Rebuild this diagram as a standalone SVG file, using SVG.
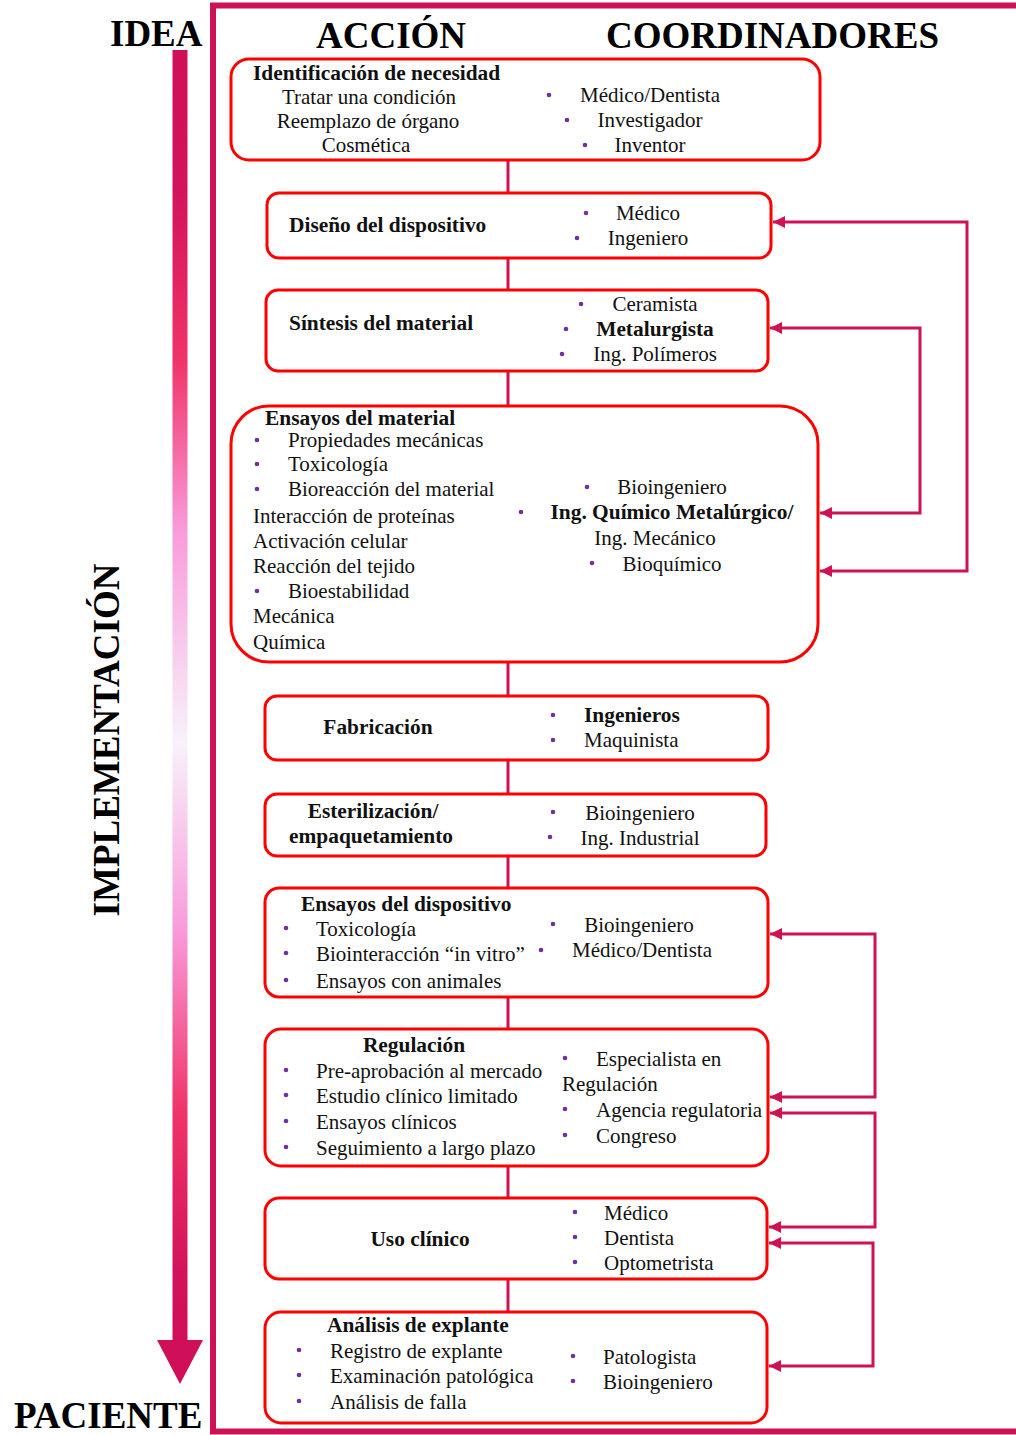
<svg xmlns="http://www.w3.org/2000/svg" width="1016" height="1435" viewBox="0 0 1016 1435">
<style>
.hd{font-family:"Liberation Serif","Times New Roman",serif;font-weight:bold;font-size:37px;fill:#000}
.t{font-family:"Liberation Serif","Times New Roman",serif;font-size:21px;fill:#111}
.b{font-family:"Liberation Serif","Times New Roman",serif;font-size:21.4px;font-weight:bold;fill:#111}
.m{text-anchor:middle}
.box{fill:#fff;stroke:#FF0000;stroke-width:3}
.dot{fill:#7030A0}
.con{fill:none;stroke:#CE1256;stroke-width:3}
</style>
<defs>
<linearGradient id="g" x1="0" y1="50" x2="0" y2="1345" gradientUnits="userSpaceOnUse">
<stop offset="0" stop-color="#CF0F57"/>
<stop offset="0.11" stop-color="#D2145A"/>
<stop offset="0.24" stop-color="#F03468"/>
<stop offset="0.37" stop-color="#F99ADA"/>
<stop offset="0.535" stop-color="#F7F2FA"/>
<stop offset="0.68" stop-color="#F99ADA"/>
<stop offset="0.82" stop-color="#F03468"/>
<stop offset="0.94" stop-color="#D2145A"/>
<stop offset="1" stop-color="#CF0F57"/>
</linearGradient>
<marker id="ah" markerUnits="userSpaceOnUse" markerWidth="14" markerHeight="12" refX="12" refY="6" orient="auto-start-reverse">
<path d="M0,0 L12,6 L0,12 Z" fill="#CE1256"/>
</marker>
</defs>

<g id="frame">
<rect x="213" y="5.5" width="900" height="1426" fill="none" stroke="#CE1256" stroke-width="6"/>
</g>

<g id="axis">
<rect x="172.5" y="50" width="15" height="1292" fill="url(#g)"/>
<path d="M157,1340 L203,1340 L180,1384 Z" fill="#CF0F57"/>
<text class="hd" x="110" y="46">IDEA</text>
<text class="hd" x="14" y="1428">PACIENTE</text>
<text class="hd m" transform="translate(119,740) rotate(-90)">IMPLEMENTACIÓN</text>
</g>

<g id="headers">
<text class="hd" x="316" y="48">ACCIÓN</text>
<text class="hd" x="606" y="48">COORDINADORES</text>
</g>

<g id="connectors">
<line class="con" x1="508" y1="160" x2="508" y2="193"/>
<line class="con" x1="508" y1="258" x2="508" y2="290"/>
<line class="con" x1="508" y1="371" x2="508" y2="406"/>
<line class="con" x1="508" y1="662" x2="508" y2="696"/>
<line class="con" x1="508" y1="760" x2="508" y2="794"/>
<line class="con" x1="508" y1="856" x2="508" y2="888"/>
<line class="con" x1="508" y1="997" x2="508" y2="1029"/>
<line class="con" x1="508" y1="1166" x2="508" y2="1198"/>
<line class="con" x1="508" y1="1279" x2="508" y2="1312"/>
<path class="con" d="M773,222 H967 V571 H820" marker-start="url(#ah)" marker-end="url(#ah)"/>
<path class="con" d="M770,328 H920 V513 H820" marker-start="url(#ah)" marker-end="url(#ah)"/>
<path class="con" d="M770,934 H875 V1097 H770" marker-start="url(#ah)" marker-end="url(#ah)"/>
<path class="con" d="M770,1113 H875 V1227 H769" marker-start="url(#ah)" marker-end="url(#ah)"/>
<path class="con" d="M769,1243 H873 V1366 H769" marker-start="url(#ah)" marker-end="url(#ah)"/>
</g>

<g id="n1">
<rect class="box" x="231" y="59" width="589" height="101" rx="18"/>
<text class="b" x="253" y="80">Identificación de necesidad</text>
<text class="t m" x="369" y="104">Tratar una condición</text>
<text class="t m" x="368" y="128">Reemplazo de órgano</text>
<text class="t m" x="366" y="152">Cosmética</text>
<circle class="dot" cx="549" cy="95" r="2.3"/>
<circle class="dot" cx="567" cy="120" r="2.3"/>
<circle class="dot" cx="585" cy="145" r="2.3"/>
<text class="t m" x="650" y="102">Médico/Dentista</text>
<text class="t m" x="650" y="127">Investigador</text>
<text class="t m" x="650" y="152">Inventor</text>
</g>

<g id="n2">
<rect class="box" x="267" y="193" width="504" height="65" rx="12"/>
<text class="b" x="289" y="232">Diseño del dispositivo</text>
<circle class="dot" cx="586" cy="213" r="2.3"/>
<circle class="dot" cx="577" cy="238" r="2.3"/>
<text class="t m" x="648" y="220">Médico</text>
<text class="t m" x="648" y="245">Ingeniero</text>
</g>

<g id="n3">
<rect class="box" x="266" y="290" width="502" height="81" rx="12"/>
<text class="b" x="289" y="330">Síntesis del material</text>
<circle class="dot" cx="581" cy="304" r="2.3"/>
<circle class="dot" cx="566" cy="329" r="2.3"/>
<circle class="dot" cx="562" cy="354" r="2.3"/>
<text class="t m" x="655" y="311">Ceramista</text>
<text class="b m" x="655" y="336">Metalurgista</text>
<text class="t m" x="655" y="361">Ing. Polímeros</text>
</g>

<g id="n4">
<rect class="box" x="231" y="406" width="587" height="256" rx="38"/>
<text class="b" x="265" y="425">Ensayos del material</text>
<circle class="dot" cx="257" cy="440" r="2.3"/>
<circle class="dot" cx="257" cy="464" r="2.3"/>
<circle class="dot" cx="257" cy="489" r="2.3"/>
<circle class="dot" cx="257" cy="591" r="2.3"/>
<text class="t" x="288" y="447">Propiedades mecánicas</text>
<text class="t" x="288" y="471">Toxicología</text>
<text class="t" x="288" y="496">Bioreacción del material</text>
<text class="t" x="253" y="523">Interacción de proteínas</text>
<text class="t" x="253" y="548">Activación celular</text>
<text class="t" x="253" y="573">Reacción del tejido</text>
<text class="t" x="288" y="598">Bioestabilidad</text>
<text class="t" x="253" y="623">Mecánica</text>
<text class="t" x="253" y="649">Química</text>
<circle class="dot" cx="587" cy="487" r="2.3"/>
<circle class="dot" cx="521" cy="512" r="2.3"/>
<circle class="dot" cx="592" cy="563" r="2.3"/>
<text class="t m" x="672" y="494">Bioingeniero</text>
<text class="b m" x="672" y="519">Ing. Químico Metalúrgico/</text>
<text class="t m" x="655" y="545">Ing. Mecánico</text>
<text class="t m" x="672" y="571">Bioquímico</text>
</g>

<g id="n5">
<rect class="box" x="265" y="696" width="503" height="64" rx="12"/>
<text class="b m" x="378" y="734">Fabricación</text>
<circle class="dot" cx="553" cy="715" r="2.3"/>
<circle class="dot" cx="553" cy="740" r="2.3"/>
<text class="b" x="584" y="722">Ingenieros</text>
<text class="t" x="584" y="747">Maquinista</text>
</g>

<g id="n6">
<rect class="box" x="265" y="794" width="501" height="62" rx="12"/>
<text class="b m" x="373" y="818">Esterilización/</text>
<text class="b m" x="371" y="843">empaquetamiento</text>
<circle class="dot" cx="553" cy="812" r="2.3"/>
<circle class="dot" cx="550" cy="837" r="2.3"/>
<text class="t m" x="640" y="820">Bioingeniero</text>
<text class="t m" x="640" y="845">Ing. Industrial</text>
</g>

<g id="n7">
<rect class="box" x="265" y="888" width="503" height="109" rx="14"/>
<text class="b" x="301" y="911">Ensayos del dispositivo</text>
<circle class="dot" cx="286" cy="928" r="2.3"/>
<circle class="dot" cx="286" cy="953" r="2.3"/>
<circle class="dot" cx="286" cy="980" r="2.3"/>
<text class="t" x="316" y="936">Toxicología</text>
<text class="t" x="316" y="961">Biointeracción “in vitro”</text>
<text class="t" x="316" y="988">Ensayos con animales</text>
<circle class="dot" cx="553" cy="924" r="2.3"/>
<circle class="dot" cx="541" cy="950" r="2.3"/>
<text class="t m" x="639" y="932">Bioingeniero</text>
<text class="t m" x="642" y="957">Médico/Dentista</text>
</g>

<g id="n8">
<rect class="box" x="265" y="1029" width="503" height="137" rx="16"/>
<text class="b m" x="414" y="1052">Regulación</text>
<circle class="dot" cx="286" cy="1070" r="2.3"/>
<circle class="dot" cx="286" cy="1095" r="2.3"/>
<circle class="dot" cx="286" cy="1121" r="2.3"/>
<circle class="dot" cx="286" cy="1147" r="2.3"/>
<text class="t" x="316" y="1078">Pre-aprobación al mercado</text>
<text class="t" x="316" y="1103">Estudio clínico limitado</text>
<text class="t" x="316" y="1129">Ensayos clínicos</text>
<text class="t" x="316" y="1155">Seguimiento a largo plazo</text>
<circle class="dot" cx="565" cy="1058" r="2.3"/>
<circle class="dot" cx="565" cy="1109" r="2.3"/>
<circle class="dot" cx="565" cy="1135" r="2.3"/>
<text class="t" x="596" y="1066">Especialista en</text>
<text class="t" x="562" y="1091">Regulación</text>
<text class="t" x="596" y="1117">Agencia regulatoria</text>
<text class="t" x="596" y="1143">Congreso</text>
</g>

<g id="n9">
<rect class="box" x="265" y="1198" width="502" height="81" rx="14"/>
<text class="b m" x="420" y="1246">Uso clínico</text>
<circle class="dot" cx="575" cy="1212" r="2.3"/>
<circle class="dot" cx="575" cy="1237" r="2.3"/>
<circle class="dot" cx="575" cy="1262" r="2.3"/>
<text class="t" x="604" y="1220">Médico</text>
<text class="t" x="604" y="1245">Dentista</text>
<text class="t" x="604" y="1270">Optometrista</text>
</g>

<g id="n10">
<rect class="box" x="265" y="1312" width="502" height="111" rx="16"/>
<text class="b" x="327" y="1332">Análisis de explante</text>
<circle class="dot" cx="299" cy="1350" r="2.3"/>
<circle class="dot" cx="299" cy="1375" r="2.3"/>
<circle class="dot" cx="299" cy="1401" r="2.3"/>
<text class="t" x="330" y="1358">Registro de explante</text>
<text class="t" x="330" y="1383">Examinación patológica</text>
<text class="t" x="330" y="1409">Análisis de falla</text>
<circle class="dot" cx="573" cy="1356" r="2.3"/>
<circle class="dot" cx="573" cy="1381" r="2.3"/>
<text class="t" x="603" y="1364">Patologista</text>
<text class="t" x="603" y="1389">Bioingeniero</text>
</g>
</svg>
